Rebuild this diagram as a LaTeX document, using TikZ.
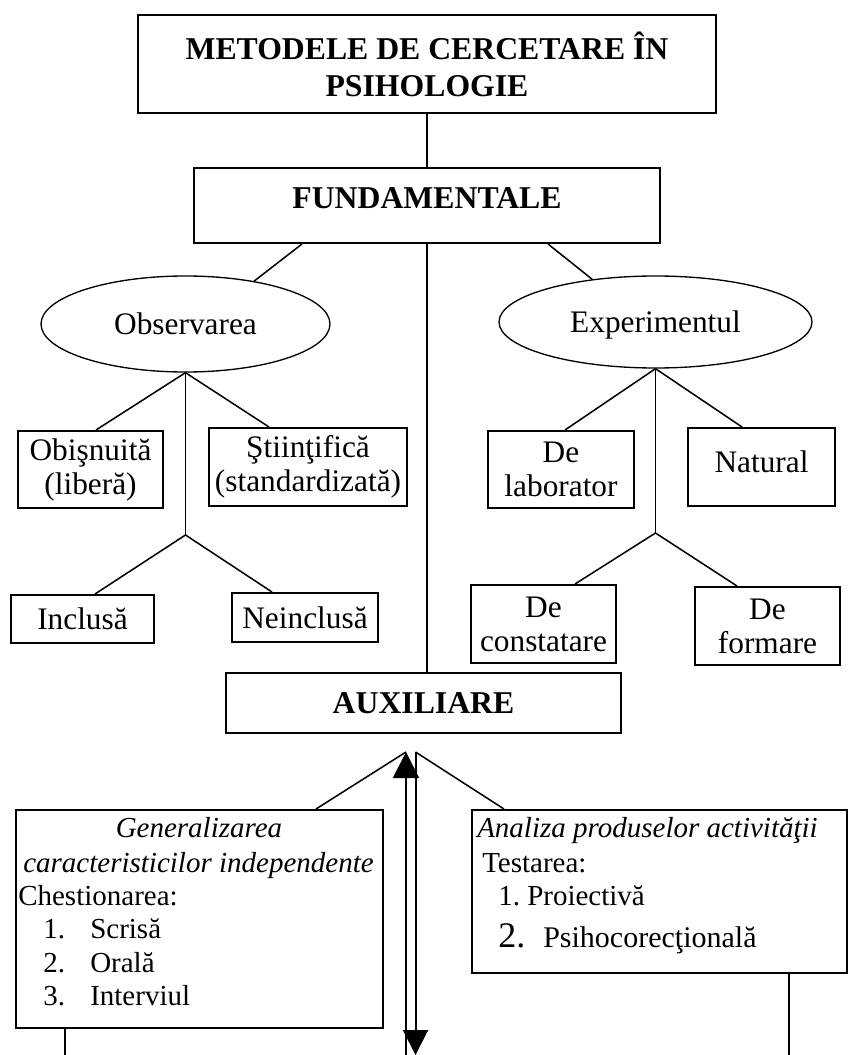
\documentclass[tikz,border=0pt]{standalone}
\usepackage{fontspec}
\setmainfont{Liberation Serif}
\usetikzlibrary{calc,shapes.geometric,arrows.meta}
\def\pxu{0.75pt}
\newcommand\ftitle{\fontsize{23.8}{27.75}\selectfont\bfseries}
\newcommand\fbold{\fontsize{23.8}{25.5}\selectfont\bfseries}
\newcommand\fbig{\fontsize{23.5}{25.5}\selectfont}
\newcommand\fsmall{\fontsize{21.75}{25}\selectfont}
\begin{document}
\begin{tikzpicture}[x=0.75pt,y=-0.75pt,
  box/.style={draw, line width=1.5pt, inner sep=0pt, align=center, font=\fbig},
  oval/.style={draw, ellipse, line width=1pt, inner sep=0pt, font=\fbig},
  ln/.style={line width=1.15pt},
  txt/.style={inner sep=0pt, font=\fsmall, anchor=base west}]
\useasboundingbox (0,0) rectangle (849,1055);

% main boxes
\node[box, font=\ftitle, minimum width=578*\pxu, minimum height=98*\pxu] (top) at (427,64) {METODELE DE CERCETARE ÎN\\PSIHOLOGIE};
\node[box, font=\fbold, minimum width=466*\pxu, minimum height=75*\pxu, text depth=11pt] (fund) at (427,205.5) {FUNDAMENTALE};
\node[oval, minimum width=289*\pxu, minimum height=96*\pxu] (obs) at (185.5,324) {Observarea};
\node[oval, minimum width=313*\pxu, minimum height=92*\pxu, text depth=0pt] (exp) at (655.5,322) {Experimentul};

% observation branches
\node[box, minimum width=145*\pxu, minimum height=77*\pxu] (obis) at (90.5,469.5) {Obişnuită\\(liberă)};
\node[box, minimum width=198*\pxu, minimum height=78*\pxu] (stiin) at (308,467) {Ştiinţifică\\(standardizată)};
\node[box, minimum width=143*\pxu, minimum height=48*\pxu] (incl) at (82.5,619) {Inclusă};
\node[box, minimum width=146*\pxu, minimum height=49*\pxu] (neincl) at (305,617.5) {Neinclusă};

% experiment branches
\node[box, minimum width=146*\pxu, minimum height=77*\pxu] (lab) at (561,469.5) {De\\laborator};
\node[box, minimum width=147*\pxu, minimum height=78*\pxu, text depth=7.5pt] (nat) at (761.5,467) {Natural};
\node[box, minimum width=145*\pxu, minimum height=78*\pxu] (cons) at (543.5,624) {De\\constatare};
\node[box, minimum width=145*\pxu, minimum height=78*\pxu] (form) at (767.5,626) {De\\formare};

% auxiliary
\node[box, font=\fbold, minimum width=395*\pxu, minimum height=60*\pxu] (aux) at (423.5,703) {AUXILIARE};

\node[box, minimum width=367*\pxu, minimum height=218*\pxu] (gen) at (199.5,919) {};
\node[txt, anchor=base, font=\fsmall\itshape] (g1) at (199,837) {Generalizarea};
\node[txt, anchor=base, font=\fsmall\itshape] (g2) at (198.5,872) {caracteristicilor independente};
\node[txt] (g3) at (18,905) {Chestionarea:};
\node[txt] (g4n) at (43,938) {1.};
\node[txt] (g4) at (90,938) {Scrisă};
\node[txt] (g5n) at (43,972) {2.};
\node[txt] (g5) at (90,972) {Orală};
\node[txt] (g6n) at (43,1005) {3.};
\node[txt] (g6) at (90,1005) {Interviul};

\node[box, minimum width=375*\pxu, minimum height=163*\pxu] (an) at (659.5,891.5) {};
\node[txt, font=\fsmall\itshape] (a1) at (477,837) {Analiza produselor activităţii};
\node[txt] (a2) at (482,872) {Testarea:};
\node[txt] (a3n) at (498,905) {1.};
\node[txt] (a3) at (527,905) {Proiectivă};
\node[txt, font=\fontsize{27}{30}\selectfont] (a4n) at (498,947) {2.};
\node[txt, font=\fontsize{22.5}{25}\selectfont] (a4) at (543,947) {Psihocorecţională};

% coordinates
\coordinate (jo) at (185.5,535);
\coordinate (je) at (655.5,533);
\coordinate (hl) at (406,752);
\coordinate (hr) at (415.5,752);
\coordinate (bl) at (406,1060);
\coordinate (br) at (415.5,1055);
\coordinate (gend) at (65,1060);
\coordinate (aend) at (789,1060);

% connectors
\draw[ln] (top.south) -- (fund.north);
\draw[ln] ($(fund.south west)+(109,0)$) -- (obs.32);
\draw[ln] ($(fund.south east)+(-113,0)$) -- (exp.146);
\draw[ln] (fund.south) -- (fund.south |- aux.north);

\draw[ln] (obs.south) -- (jo);
\draw[ln] (obs.south) -- ($(obis.north west)+(79,0)$);
\draw[ln] (obs.south) -- ($(stiin.north west)+(61,0)$);
\draw[ln] (jo) -- ($(incl.north west)+(85,0)$);
\draw[ln] (jo) -- ($(neincl.north west)+(41,0)$);

\draw[ln] (exp.south) -- (je);
\draw[ln] (exp.south) -- ($(lab.north west)+(78,0)$);
\draw[ln] (exp.south) -- ($(nat.north west)+(55,0)$);
\draw[ln] (je) -- ($(cons.north west)+(105,0)$);
\draw[ln] (je) -- ($(form.north west)+(43,0)$);

\draw[line width=1.5pt, -{Triangle[width=19.5pt,length=19.5pt]}] (bl) -- (hl);
\draw[line width=1.5pt, -{Triangle[width=18.75pt,length=18.75pt]}] (hr) -- (br);
\draw[ln] (hl) -- ($(gen.north west)+(301,0)$);
\draw[ln] (hr) -- ($(an.north west)+(33,0)$);
\draw[ln] (gend |- gen.south) -- (gend);
\draw[ln] (aend |- an.south) -- (aend);
\end{tikzpicture}
\end{document}
